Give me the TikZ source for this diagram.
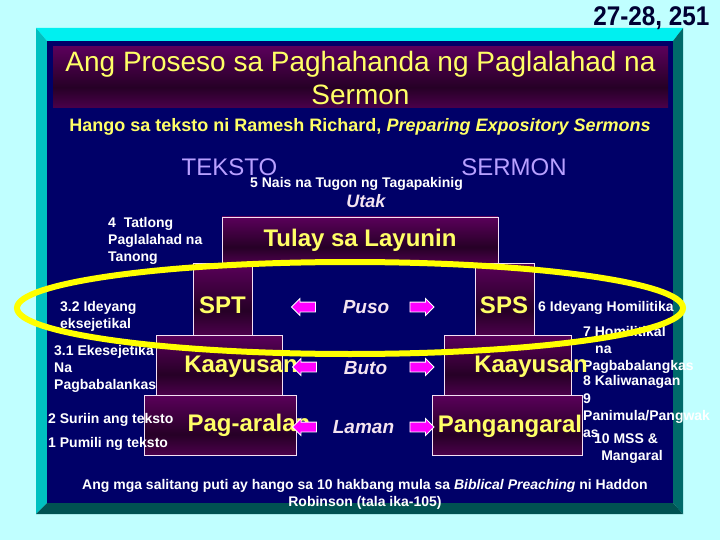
\documentclass[tikz,border=0pt]{standalone}
\usepackage{fontspec}
\setmainfont{Liberation Sans}
\usetikzlibrary{shapes.arrows}
\definecolor{pagebg}{HTML}{C0FFFF}
\definecolor{navy}{HTML}{000068}
\definecolor{rimtop}{HTML}{00F0F0}
\definecolor{rimleft}{HTML}{00C0C0}
\definecolor{rimright}{HTML}{006A6A}
\definecolor{rimbottom}{HTML}{005252}
\definecolor{boxpurple}{HTML}{820082}
\definecolor{boxdark}{HTML}{260026}
\definecolor{boxedge}{HTML}{F4E0F4}
\definecolor{gold}{HTML}{FFFF66}
\definecolor{ringyellow}{HTML}{FFFF00}
\definecolor{lavender}{HTML}{B8A0FF}
\definecolor{softpink}{HTML}{F4E4F0}
\definecolor{magentafill}{HTML}{FF00FF}
\definecolor{inkblue}{HTML}{000033}
\pgfdeclareverticalshading{purpleband}{100bp}{color(0bp)=(boxpurple); color(42bp)=(boxdark); color(100bp)=(boxpurple)}
\begin{document}
\begin{tikzpicture}[x=1pt,y=-1pt,
  box/.style={draw=boxedge,line width=0.9pt,shading=purpleband,inner sep=0pt},
  big/.style={text=gold,font=\bfseries\fontsize{24}{28}\selectfont},
  note/.style={text=white,font=\bfseries\fontsize{14}{17}\selectfont,align=left,inner sep=0pt,anchor=west},
  mid/.style={text=softpink,font=\bfseries\itshape\fontsize{19}{22}\selectfont},
  pointer/.style={single arrow,fill=magentafill,draw=white,line width=0.8pt,inner sep=4.5pt,
    minimum height=24pt,single arrow head extend=3.5pt},
  lpointer/.style={pointer,shape border rotate=180}]
\fill[pagebg] (0,0) rectangle (720,540);
\useasboundingbox (0,0) rectangle (720,540);
\fill[rimtop] (36,28) -- (683,28) -- (673,41) -- (47,41) -- cycle;
\fill[rimleft] (36,28) -- (47,41) -- (47,503) -- (36,514) -- cycle;
\fill[rimright] (683,28) -- (683,514) -- (673,503) -- (673,41) -- cycle;
\fill[rimbottom] (36,514) -- (47,503) -- (673,503) -- (683,514) -- cycle;
\fill[navy] (47,41) rectangle (673,503);

\node[text=inkblue,font=\bfseries\fontsize{27}{30}\selectfont,anchor=east] (pages) at (713,18) {\scalebox{0.9}[1]{27-28, 251}};
\node[shading=purpleband,minimum width=615pt,minimum height=61pt] (titlebox) at (360.5,77.5) {};
\node[text=gold,font=\fontsize{28}{33}\selectfont,align=center] (title) at (titlebox) {Ang Proseso sa Paghahanda ng Paglalahad na\\Sermon};
\node[text=gold,font=\bfseries\fontsize{18}{21}\selectfont] (source) at (360,127) {Hango sa teksto ni Ramesh Richard, \textit{Preparing Expository Sermons}};

\node[text=lavender,font=\fontsize{24}{28}\selectfont] (teksto) at (229.5,167) {TEKSTO};
\node[text=lavender,font=\fontsize{24}{28}\selectfont] (sermon) at (514,167) {SERMON};
\node[note] (q5) at (250,184) {5 Nais na Tugon ng Tagapakinig};
\node[text=softpink,font=\bfseries\itshape\fontsize{18}{22}\selectfont] (utak) at (366,201) {Utak};

\node[box,minimum width=276pt,minimum height=46pt] (tulay) at (360,240) {};
\node[box,minimum width=59pt,minimum height=72pt] (sptbox) at (222.5,299) {};
\node[box,minimum width=59pt,minimum height=72pt] (spsbox) at (504.5,299) {};
\node[box,minimum width=126pt,minimum height=60pt] (kaleft) at (219,365) {};
\node[box,minimum width=127pt,minimum height=60pt] (karight) at (507.5,365) {};
\node[box,minimum width=152pt,minimum height=60pt] (aralbox) at (220,425) {};
\node[box,minimum width=150pt,minimum height=60pt] (aralright) at (507,425) {};

\node[note] (q4) at (108,241) {4\ \ Tatlong\\Paglalahad na\\Tanong};
\node[note] (q32) at (60,316.5) {3.2 Ideyang\\eksejetikal};
\node[note] (q31) at (54,369) {3.1 Ekesejetika\\Na\\Pagbabalankas};
\node[note] (q2) at (48,420) {2 Suriin ang teksto};
\node[note] (q1) at (48,444) {1 Pumili ng teksto};
\node[note] (q6) at (538,308) {6 Ideyang Homilitika};
\node[note] (q7) at (583,349.5) {7 Homilitikal\\\hspace*{12pt}na\\Pagbabalangkas};
\node[note] (q8) at (583,382) {8 Kaliwanagan};
\node[note] (q9) at (583,416) {9\\Panimula/Pangwak\\as};
\node[note,align=center,anchor=center] (q10) at (626,448.5) {10 MSS \&\\\hspace*{12pt}Mangaral};

\node[big] (tulaytext) at (tulay) {Tulay sa Layunin};
\node[big] (spt) at (222.5,305) {SPT};
\node[big] (sps) at (504,305) {SPS};
\node[big] (kaayusan1) at (241,367) {Kaayusan};
\node[big] (kaayusan2) at (531,367) {Kaayusan};
\node[big] (aralan) at (249,425) {Pag-aralan};
\node[big] (pangaral) at (510,426) {Pangangaral};

\node[mid] (puso) at (366,307) {Puso};
\node[mid] (buto) at (365.5,368) {Buto};
\node[mid] (laman) at (363.5,427) {Laman};
\node[lpointer] (pl1) at (306,307) {};
\node[lpointer] (pl2) at (307,367) {};
\node[lpointer] (pl3) at (307,427) {};
\node[pointer] (pr1) at (419.5,307) {};
\node[pointer] (pr2) at (419.5,367) {};
\node[pointer] (pr3) at (419.5,427) {};

\draw[ringyellow,line width=6pt] (350,308) ellipse [x radius=333pt,y radius=46pt];

\node[text=white,font=\bfseries\fontsize{14}{17}\selectfont,align=center] (credit) at (365,494.5) {Ang mga salitang puti ay hango sa 10 hakbang mula sa \textit{Biblical Preaching} ni Haddon\\Robinson (tala ika-105)};
\end{tikzpicture}
\end{document}
